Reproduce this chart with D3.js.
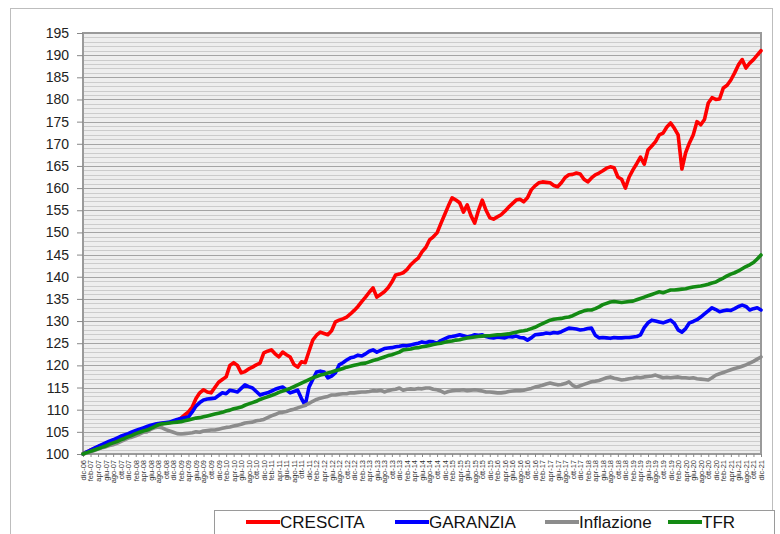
<!DOCTYPE html>
<html><head><meta charset="utf-8">
<script src="https://cdn.jsdelivr.net/npm/d3@7"></script>
<style>
html,body{margin:0;padding:0;background:#fff;}
svg{display:block;font-family:"Liberation Sans",Arial,sans-serif;}
</style></head>
<body>
<svg id="chart" width="780" height="534"></svg>
<script>
// ---- DATA (monthly, dic-06 .. dic-21) ----
const monthNames = ["gen","feb","mar","apr","mag","giu","lug","ago","set","ott","nov","dic"];
const startYear = 2006, startMonth = 11; // dic-06
const seriesNames = ["CRESCITA","GARANZIA","Inflazione","TFR"];
const seriesColors = ["#ff0000","#0000ff","#8c8c8c","#138a13"];
const yTicks = [100,105,110,115,120,125,130,135,140,145,150,155,160,165,170,175,180,185,190,195];

const crescita = [100,
 100.4,100.9,101.2,101.6,102.0,102.3,102.7,102.9,103.3,103.7,104.1,104.4,
 104.7,105.0,105.3,105.6,106.0,106.3,106.6,106.8,106.9,107.0,107.1,107.3,
 107.6,108.1,108.8,109.5,110.6,112.5,113.8,114.5,114.0,113.8,115.0,116.2,
 116.8,117.4,120.0,120.6,120.0,118.3,118.6,119.2,119.6,120.1,120.5,122.8,
 123.2,123.5,122.6,121.9,123.0,122.4,121.9,120.2,119.6,120.8,120.6,123.2,
 125.7,126.8,127.5,127.2,126.9,127.8,129.8,130.2,130.5,130.9,131.6,132.4,
 133.3,134.4,135.4,136.5,137.5,135.4,136.0,136.6,137.5,138.8,140.4,140.6,
 140.9,141.6,142.7,143.5,144.2,145.6,146.6,148.3,149.0,149.9,152.0,154.0,
 156.0,157.8,157.3,156.7,154.6,156.2,153.8,152.1,155.0,157.3,155.0,153.3,
 153.0,153.5,154.0,154.8,155.7,156.5,157.3,157.5,156.9,157.8,159.6,160.5,
 161.2,161.4,161.3,161.2,160.6,160.3,161.2,162.4,163.0,163.1,163.4,163.2,
 162.0,161.4,162.3,163.0,163.4,163.9,164.5,164.8,164.6,162.5,162.0,160.0,
 162.5,164.1,165.5,167.0,165.4,168.6,169.5,170.5,172.0,172.4,173.8,174.7,
 173.5,172.0,164.3,168.0,170.2,172.0,175.0,174.3,175.5,179.2,180.4,180.0,
 180.1,182.6,183.2,184.4,186.0,187.8,189.0,187.1,188.2,189.0,190.0,191.0];

const garanzia = [100,
 100.5,100.9,101.3,101.7,102.1,102.5,102.9,103.2,103.6,104.0,104.3,104.6,
 105.0,105.3,105.6,105.9,106.2,106.5,106.7,106.9,107.0,107.1,107.2,107.5,
 107.8,108.0,108.2,108.4,109.5,110.8,111.6,112.2,112.4,112.5,112.6,113.2,
 113.8,113.6,114.4,114.2,114.0,114.8,115.6,115.2,114.9,114.1,113.3,113.6,
 113.8,114.2,114.6,114.9,115.1,114.5,113.8,114.1,114.4,112.5,111.0,115.1,
 116.8,118.5,118.7,118.5,117.2,117.6,118.3,120.1,120.6,121.2,121.7,121.9,
 122.3,122.1,122.6,123.2,123.5,123.0,123.4,123.8,123.9,124.0,124.2,124.3,
 124.5,124.4,124.6,124.8,125.0,125.3,125.1,125.4,125.3,125.0,125.6,126.0,
 126.4,126.5,126.7,126.9,126.7,126.4,126.6,126.9,126.8,126.9,126.5,126.3,
 126.2,126.4,126.3,126.2,126.5,126.4,126.6,126.3,126.2,125.7,126.2,126.9,
 127.0,127.1,127.3,127.2,127.4,127.3,127.6,128.0,128.4,128.3,128.2,128.0,
 128.1,128.3,128.4,126.8,126.2,126.3,126.2,126.1,126.3,126.2,126.2,126.3,
 126.3,126.4,126.5,126.9,128.5,129.6,130.2,130.0,129.8,129.6,129.9,130.2,
 129.5,128.0,127.5,128.3,129.6,129.9,130.3,130.9,131.6,132.3,133.0,132.6,
 132.1,132.3,132.5,132.4,132.8,133.3,133.6,133.3,132.5,132.8,133.0,132.5];

const inflazione = [100,
 100.2,100.5,100.8,101.1,101.4,101.6,101.9,102.1,102.4,102.8,103.2,103.6,
 103.8,104.1,104.5,104.9,105.0,105.6,105.9,106.1,105.9,105.5,105.2,104.9,
 104.6,104.5,104.6,104.7,104.8,105.0,104.9,105.2,105.3,105.4,105.4,105.6,
 105.8,106.0,106.1,106.3,106.5,106.7,107.0,107.1,107.2,107.5,107.6,107.8,
 108.2,108.6,108.9,109.3,109.4,109.6,109.9,110.1,110.4,110.7,111.0,111.4,
 111.9,112.3,112.6,112.8,113.0,113.3,113.3,113.5,113.6,113.6,113.8,113.8,
 113.9,114.0,114.0,114.1,114.3,114.2,114.4,114.0,114.3,114.5,114.6,114.9,
 114.4,114.6,114.7,114.6,114.8,114.7,114.9,114.9,114.6,114.5,114.2,113.8,
 114.1,114.3,114.4,114.4,114.5,114.3,114.4,114.5,114.4,114.2,114.0,114.0,
 113.9,113.8,113.8,113.9,114.1,114.2,114.3,114.3,114.4,114.6,114.8,115.1,
 115.3,115.5,115.8,116.0,115.8,115.6,115.7,115.9,116.3,115.5,115.1,115.4,
 115.7,116.0,116.3,116.4,116.6,116.9,117.2,117.4,117.1,116.9,116.7,116.8,
 117.0,117.1,117.3,117.2,117.4,117.5,117.6,117.8,117.5,117.2,117.3,117.2,
 117.3,117.4,117.2,117.2,117.1,117.2,117.0,116.9,116.8,116.7,117.2,117.8,
 118.1,118.4,118.7,119.0,119.3,119.5,119.8,120.1,120.5,120.9,121.4,121.9];

const tfr = [100,
 100.3,100.6,100.9,101.2,101.5,101.8,102.2,102.5,102.8,103.2,103.5,103.9,
 104.2,104.6,104.9,105.2,105.4,105.8,106.2,106.6,106.8,106.9,107.0,107.1,
 107.2,107.3,107.5,107.7,107.9,108.1,108.2,108.4,108.6,108.8,109.0,109.2,
 109.4,109.7,109.9,110.2,110.4,110.6,111.0,111.3,111.6,111.9,112.3,112.6,
 112.9,113.2,113.5,113.9,114.2,114.5,114.8,115.2,115.6,116.0,116.4,116.8,
 117.2,117.5,117.8,118.0,118.3,118.5,118.8,119.0,119.3,119.6,119.8,120.0,
 120.2,120.4,120.5,120.8,121.1,121.3,121.6,121.9,122.2,122.4,122.7,123.0,
 123.5,123.6,123.7,123.9,124.0,124.2,124.3,124.5,124.7,124.9,125.0,125.2,
 125.4,125.5,125.7,125.8,126.0,126.2,126.3,126.4,126.5,126.6,126.7,126.7,
 126.8,126.9,126.9,127.0,127.1,127.3,127.5,127.7,127.8,128.0,128.3,128.6,
 129.0,129.4,129.8,130.2,130.4,130.5,130.6,130.8,130.9,131.2,131.6,132.0,
 132.3,132.5,132.5,132.8,133.2,133.7,134.0,134.3,134.4,134.3,134.2,134.3,
 134.4,134.5,134.8,135.1,135.4,135.7,136.0,136.3,136.6,136.4,136.7,137.0,
 137.0,137.1,137.2,137.3,137.5,137.7,137.8,137.9,138.1,138.3,138.6,138.8,
 139.3,139.7,140.2,140.6,140.9,141.3,141.8,142.3,142.7,143.2,144.0,144.9];

const seriesValues = [crescita, garanzia, inflazione, tfr];

// month labels
const monthLabels = crescita.map((_, i) => {
  const m = (startMonth + i) % 12;
  const y = startYear + Math.floor((startMonth + i) / 12);
  return monthNames[m] + "-" + String(y % 100).padStart(2, "0");
});

// ---- LAYOUT ----
const svg = d3.select("#chart");
const L = 83, R = 761, T = 33, B = 454;

// outer frame
svg.append("rect").attr("x",10.5).attr("y",8.5).attr("width",762).attr("height",540)
  .attr("fill","#fff").attr("stroke","#bdbdbd").attr("stroke-width",1);

const x = d3.scaleLinear().domain([0, monthLabels.length - 1]).range([L, R]);
const y = d3.scaleLinear().domain([100, 195]).range([B, T]);

// plot background
svg.append("rect").attr("x",L).attr("y",T).attr("width",R-L).attr("height",B-T).attr("fill","#eeeeee");

// gridlines every 1 (major every 5)
const g = svg.append("g");
g.selectAll("line.minor").data(d3.range(101,195)).join("line")
  .attr("x1",L).attr("x2",R)
  .attr("y1",d=>Math.round(y(d))+0.5).attr("y2",d=>Math.round(y(d))+0.5)
  .attr("stroke",d=> d%5===0 ? "#a4a4a4" : "#cccccc").attr("stroke-width",1);

// plot border
svg.append("rect").attr("x",L).attr("y",T).attr("width",R-L).attr("height",B-T)
  .attr("fill","none").attr("stroke","#9a9a9a").attr("stroke-width",2);

// y axis
const yAxis = d3.axisLeft(y).tickValues(yTicks).tickSize(6).tickPadding(8).tickFormat(d3.format("d"));
const ya = svg.append("g").attr("transform",`translate(${L},0)`).call(yAxis);
ya.select(".domain").remove();
ya.selectAll(".tick line").attr("stroke","#888");
ya.selectAll(".tick text").attr("font-size","14px").attr("fill","#222")
  .attr("font-family","'Liberation Sans',Arial,sans-serif");

// x axis
const xTickIdx = d3.range(0, monthLabels.length, 2);
const xAxis = d3.axisBottom(x).tickValues(xTickIdx).tickSize(3).tickPadding(3)
  .tickFormat(i => monthLabels[i]);
const xa = svg.append("g").attr("transform",`translate(0,${B})`).call(xAxis);
xa.select(".domain").remove();
xa.selectAll(".tick line").attr("stroke","#888");
xa.selectAll(".tick text")
  .attr("font-size","7.5px").attr("fill","#333")
  .attr("font-family","'Liberation Sans',Arial,sans-serif")
  .attr("text-anchor","end")
  .attr("dy","0.32em")
  .attr("transform","translate(0,3) rotate(-90)")
  .attr("x",-3).attr("y",0);

// lines
const line = d3.line().x((d,i)=>x(i)).y(d=>y(d));
seriesValues.forEach((vals, k) => {
  svg.append("path").datum(vals)
    .attr("fill","none").attr("stroke",seriesColors[k])
    .attr("stroke-width",3.6).attr("stroke-linejoin","round").attr("stroke-linecap","round")
    .attr("d",line);
});

// legend
svg.append("rect").attr("x",214.5).attr("y",510.5).attr("width",560).attr("height",34)
  .attr("fill","#fff").attr("stroke","#9a9a9a").attr("stroke-width",1);
const legX = [246, 395, 545, 668];
seriesNames.forEach((n,k) => {
  const lg = svg.append("g").attr("transform",`translate(${legX[k]},522)`);
  lg.append("line").attr("x1",0).attr("x2",34).attr("y1",0).attr("y2",0)
    .attr("stroke",seriesColors[k]).attr("stroke-width",4);
  lg.append("text").attr("x",34).attr("y",6).attr("font-size","17px").attr("fill","#111")
    .text(n);
});
</script>
</body></html>
